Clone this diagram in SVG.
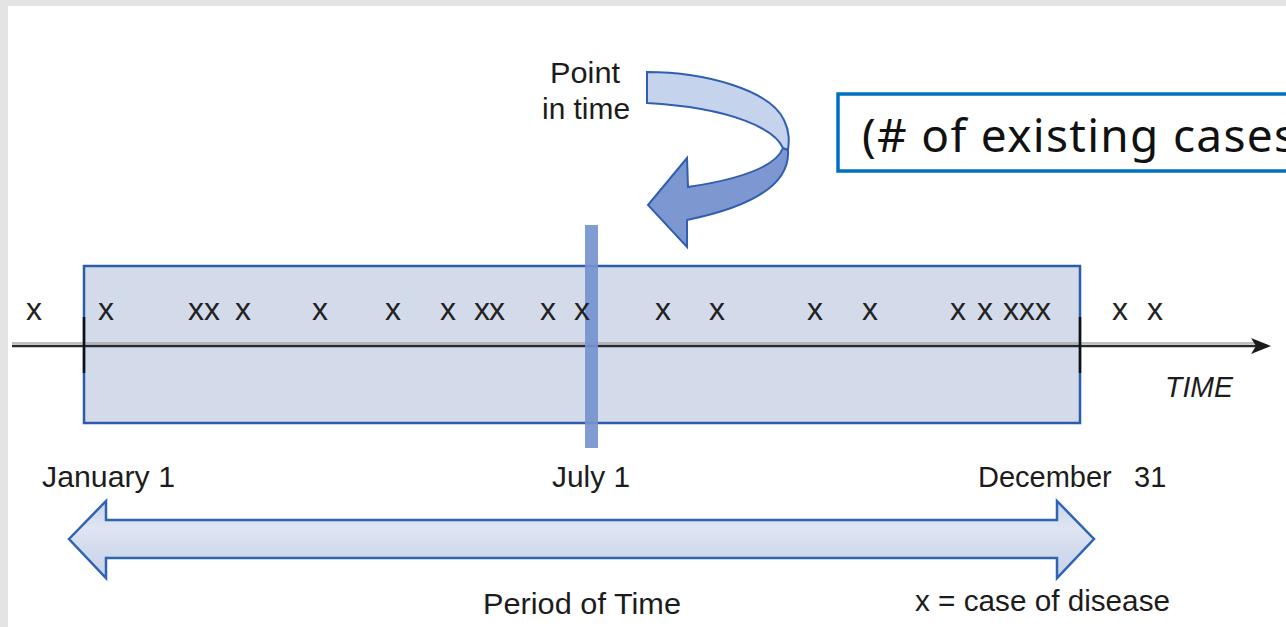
<svg xmlns="http://www.w3.org/2000/svg" width="1286" height="627" viewBox="0 0 1286 627">
  <style>
    .lbl { font-family: "Liberation Sans", Arial, sans-serif; font-size: 29px; fill: #1c1c1c; }
    .mk { font-family: "Liberation Sans", Arial, sans-serif; font-size: 32px; fill: #222; text-anchor: middle; }
    .blue { stroke: #2a5cab; stroke-width: 2.5; }
  </style>
  <defs>
    <linearGradient id="band" x1="0" y1="0" x2="0" y2="1">
      <stop offset="0" stop-color="#c7d3ea"/>
      <stop offset="0.35" stop-color="#dfe5f2"/>
      <stop offset="0.6" stop-color="#d3dbed"/>
      <stop offset="1" stop-color="#c9d4ea"/>
    </linearGradient>
  </defs>

  <!-- background frame -->
  <rect x="0" y="0" width="1286" height="627" fill="#e4e4e4"/>
  <rect x="8" y="6" width="1278" height="621" fill="#ffffff"/>

  <!-- period box -->
  <g id="period-box">
    <rect x="84" y="266" width="996" height="157" fill="#d3dbeb" class="blue"/>
  </g>

  <!-- connectors -->
  <g id="connectors">
    <g id="time-axis">
      <line x1="12" y1="343" x2="1256" y2="343" stroke="#a8a8a8" stroke-width="1.5"/>
      <line x1="12" y1="346" x2="1256" y2="346" stroke="#2a2a2a" stroke-width="2.5"/>
      <polygon points="1251,338 1271,346 1251,354 1256,346" fill="#1a1a1a"/>
      <line x1="84" y1="317" x2="84" y2="373" stroke="#111" stroke-width="2.5"/>
      <line x1="1080" y1="317" x2="1080" y2="373" stroke="#111" stroke-width="2.5"/>
    </g>
    <g id="curved-arrow">
      <path d="M788,150 C790,180 760,205 687,220 L687,247 L648,205 L687,158 L688,187 C735,180 775,168 783,148 Z" fill="#7d98d0" stroke="#2f5fae" stroke-width="2" stroke-linejoin="miter"/>
      <path d="M647,72 C705,72 770,90 784,120 C790,132 789,142 788,150 L783,148 C775,130 735,108 647,103 Z" fill="#c6d3ec" stroke="#2f5fae" stroke-width="2"/>
    </g>
    <g id="period-arrow">
      <polygon points="69,539 106,501 106,520 1057,520 1057,501 1094,539 1057,578 1057,558 106,558 106,578" fill="url(#band)" stroke="#2f64b3" stroke-width="2.5" stroke-linejoin="miter"/>
    </g>
  </g>

  <!-- point in time bar -->
  <g id="point-bar">
    <rect x="585" y="225" width="13" height="223" fill="#7693cf" opacity="0.92"/>
  </g>

  <!-- cases -->
  <g id="cases">
    <text class="mk" x="34" y="320">x</text>
    <text class="mk" x="106" y="320">x</text>
    <text class="mk" x="196" y="320">x</text>
    <text class="mk" x="212" y="320">x</text>
    <text class="mk" x="243" y="320">x</text>
    <text class="mk" x="320" y="320">x</text>
    <text class="mk" x="393" y="320">x</text>
    <text class="mk" x="448" y="320">x</text>
    <text class="mk" x="482" y="320">x</text>
    <text class="mk" x="497" y="320">x</text>
    <text class="mk" x="548" y="320">x</text>
    <text class="mk" x="582" y="320">x</text>
    <text class="mk" x="663" y="320">x</text>
    <text class="mk" x="717" y="320">x</text>
    <text class="mk" x="815" y="320">x</text>
    <text class="mk" x="870" y="320">x</text>
    <text class="mk" x="958" y="320">x</text>
    <text class="mk" x="985" y="320">x</text>
    <text class="mk" x="1011" y="320">x</text>
    <text class="mk" x="1027" y="320">x</text>
    <text class="mk" x="1043" y="320">x</text>
    <text class="mk" x="1120" y="320">x</text>
    <text class="mk" x="1155" y="320">x</text>
  </g>

  <!-- labels -->
  <g id="point-label">
    <text class="lbl" x="585" y="83" text-anchor="middle" textLength="70" lengthAdjust="spacingAndGlyphs">Point</text>
    <text class="lbl" x="586" y="119" text-anchor="middle" textLength="88" lengthAdjust="spacingAndGlyphs">in time</text>
  </g>
  <g id="time-label">
    <text class="lbl" x="1165" y="397" font-style="italic" textLength="68" lengthAdjust="spacingAndGlyphs">TIME</text>
  </g>
  <g id="date-labels">
    <text class="lbl" x="42" y="487" textLength="133" lengthAdjust="spacingAndGlyphs">January 1</text>
    <text class="lbl" x="552" y="487" textLength="78" lengthAdjust="spacingAndGlyphs">July 1</text>
    <text class="lbl" x="978" y="487">December<tspan x="1134">31</tspan></text>
  </g>
  <g id="period-label">
    <text class="lbl" x="483" y="614" textLength="198" lengthAdjust="spacingAndGlyphs">Period of Time</text>
  </g>
  <g id="legend">
    <text class="lbl" x="915" y="611" textLength="255" lengthAdjust="spacingAndGlyphs">x = case of disease</text>
  </g>

  <!-- callout box -->
  <g id="callout">
    <rect x="838" y="94" width="470" height="77" fill="#ffffff" stroke="#0070c0" stroke-width="3.5"/>
    <text x="862" y="152" font-family="'Noto Sans', 'DejaVu Sans', sans-serif" font-size="46" fill="#111" textLength="434" lengthAdjust="spacing">(# of existing cases</text>
  </g>
</svg>
